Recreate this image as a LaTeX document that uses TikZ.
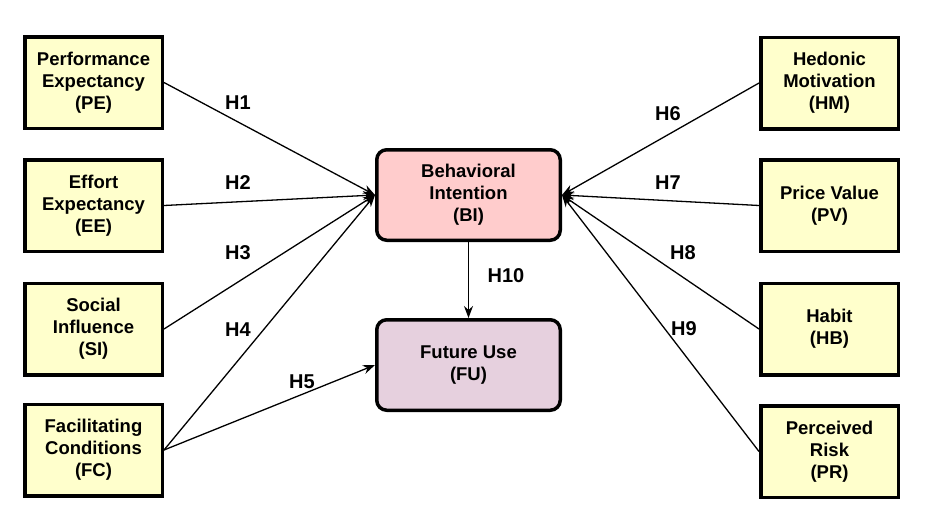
\documentclass[tikz,border=0pt]{standalone}
\usepackage{fontspec}
\setmainfont{Liberation Sans}
\usetikzlibrary{arrows.meta}
\definecolor{boxyellow}{HTML}{FFFFCC}
\definecolor{bipink}{HTML}{FFCCCC}
\definecolor{fumauve}{HTML}{E6D0DE}
\begin{document}
\begin{tikzpicture}[x=1pt,y=-1pt,
  txt/.style={font=\fontsize{18.5}{22}\selectfont\bfseries},
  varbox/.style={draw=black,line width=3.5pt,fill=boxyellow,minimum width=137.5pt,minimum height=91.5pt,align=center,inner sep=2pt,txt},
  centbox/.style={draw=black,line width=3.5pt,rounded corners=10pt,minimum width=183.5pt,minimum height=90.5pt,align=center,inner sep=2pt,txt},
  link/.style={line width=1.3pt,-{Stealth[length=12pt,width=9pt]}},
  hlab/.style={font=\fontsize{20}{22}\selectfont\bfseries,inner sep=0pt}]
\useasboundingbox (0,0) rectangle (925,530);
% left boxes
\node[varbox] (pe) at (93.5,82.5) {Performance\\Expectancy\\(PE)};
\node[varbox] (ee) at (93.5,205.5) {Effort\\Expectancy\\(EE)};
\node[varbox] (si) at (93.5,329) {Social\\Influence\\(SI)};
\node[varbox] (fc) at (93.5,450) {Facilitating\\Conditions\\(FC)};
% right boxes
\node[varbox] (hm) at (829.5,83) {Hedonic\\Motivation\\(HM)};
\node[varbox] (pv) at (829.5,205.5) {Price Value\\(PV)};
\node[varbox] (hb) at (829.5,329) {Habit\\(HB)};
\node[varbox] (pr) at (829.5,451.5) {Perceived\\Risk\\(PR)};
% centre
\node[centbox,fill=bipink] (bi) at (468.5,195) {Behavioral\\Intention\\(BI)};
\node[centbox,fill=fumauve] (fu) at (468.5,365) {Future Use\\(FU)};
% links
\draw[link] (pe.east) -- (bi.west);
\draw[link] (ee.east) -- (bi.west);
\draw[link] (si.east) -- (bi.west);
\draw[link] (fc.east) -- (bi.west);
\draw[link] (fc.east) -- (fu.west);
\draw[link] (hm.west) -- (bi.east);
\draw[link] (pv.west) -- (bi.east);
\draw[link] (hb.west) -- (bi.east);
\draw[link] (pr.west) -- (bi.east);
\draw[link] (bi.south) -- (fu.north);
% labels
\node[hlab] (h1) at (238,103) {H1};
\node[hlab] (h2) at (238,183) {H2};
\node[hlab] (h3) at (238,253) {H3};
\node[hlab] (h4) at (238,330) {H4};
\node[hlab] (h5) at (302,382) {H5};
\node[hlab] (h6) at (668,114) {H6};
\node[hlab] (h7) at (668,183) {H7};
\node[hlab] (h8) at (683,253) {H8};
\node[hlab] (h9) at (684,329) {H9};
\node[hlab] (h10) at (506,276) {H10};
\end{tikzpicture}
\end{document}
